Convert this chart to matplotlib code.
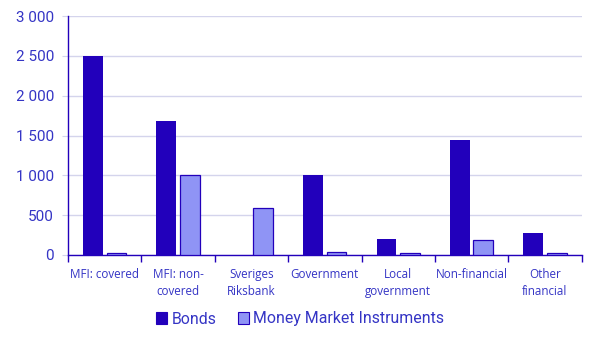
import matplotlib
matplotlib.use("Agg")
import matplotlib.pyplot as plt
import numpy as np
from matplotlib.patches import Patch

categories = ["MFI: covered", "MFI: non-\ncovered", "Sveriges\nRiksbank", "Government",
              "Local\ngovernment", "Non-financial", "Other\nfinancial"]
bonds = [2500, 1683, 0, 1000, 200, 1443, 275]
mmi = [25, 1000, 589, 33, 20, 188, 20]
series_names = ["Bonds", "Money Market Instruments"]
yticks = [0, 500, 1000, 1500, 2000, 2500, 3000]
ytick_labels = ["0", "500", "1 000", "1 500", "2 000", "2 500", "3 000"]

BOND_C = "#2200BB"
MMI_C = "#8F94F5"
TEXT_C = "#3535C5"
AXIS_C = "#2200BB"
GRID_C = "#D4D4EC"

fig = plt.figure(figsize=(5.96, 3.40), dpi=100)
ax = fig.add_axes([68/596, 1-255/340, (581.7-68)/596, (255-16)/340])

x = np.arange(len(categories))
w = 0.27
off = 0.16
ax.bar(x - off, bonds, width=w, color=BOND_C, linewidth=0, zorder=3)
ax.bar(x + off, mmi, width=w, color=MMI_C, edgecolor=BOND_C, linewidth=0.9, zorder=3)

ax.set_xlim(-0.5, len(categories) - 0.5)
ax.set_ylim(0, 3000)
ax.set_yticks(yticks)
ax.set_yticklabels(ytick_labels, fontfamily="Roboto", fontsize=11, color=TEXT_C)
ax.yaxis.grid(True, color=GRID_C, linewidth=1, zorder=0)
ax.tick_params(axis="y", length=4, color=GRID_C, pad=6)

ax.set_xticks(np.arange(-0.5, len(categories)), minor=False)
ax.set_xticklabels([])
ax.set_xticks(x, minor=True)
ax.set_xticklabels(categories, minor=True, fontfamily="Open Sans", fontsize=8.4,
                   color=TEXT_C, linespacing=1.4)
ax.tick_params(axis="x", which="major", length=5, color=AXIS_C, width=1)
ax.tick_params(axis="x", which="minor", length=0, pad=9.5)

for s in ["top", "right"]:
    ax.spines[s].set_visible(False)
ax.spines["left"].set_color(AXIS_C)
ax.spines["bottom"].set_color(AXIS_C)
ax.spines["left"].set_linewidth(1)
ax.spines["bottom"].set_linewidth(1)

handles = [Patch(facecolor=BOND_C, edgecolor=BOND_C, linewidth=0.8),
           Patch(facecolor=MMI_C, edgecolor=BOND_C, linewidth=0.8)]
leg = fig.legend(handles, series_names, loc="center", bbox_to_anchor=(0.504, 1-319/340),
                 ncol=2, frameon=False, handlelength=0.7, handleheight=0.7,
                 handletextpad=0.25, columnspacing=1.4,
                 prop={"family": "Roboto", "size": 11.4})
for t in leg.get_texts():
    t.set_color(TEXT_C)

fig.savefig("out.png", dpi=100)
